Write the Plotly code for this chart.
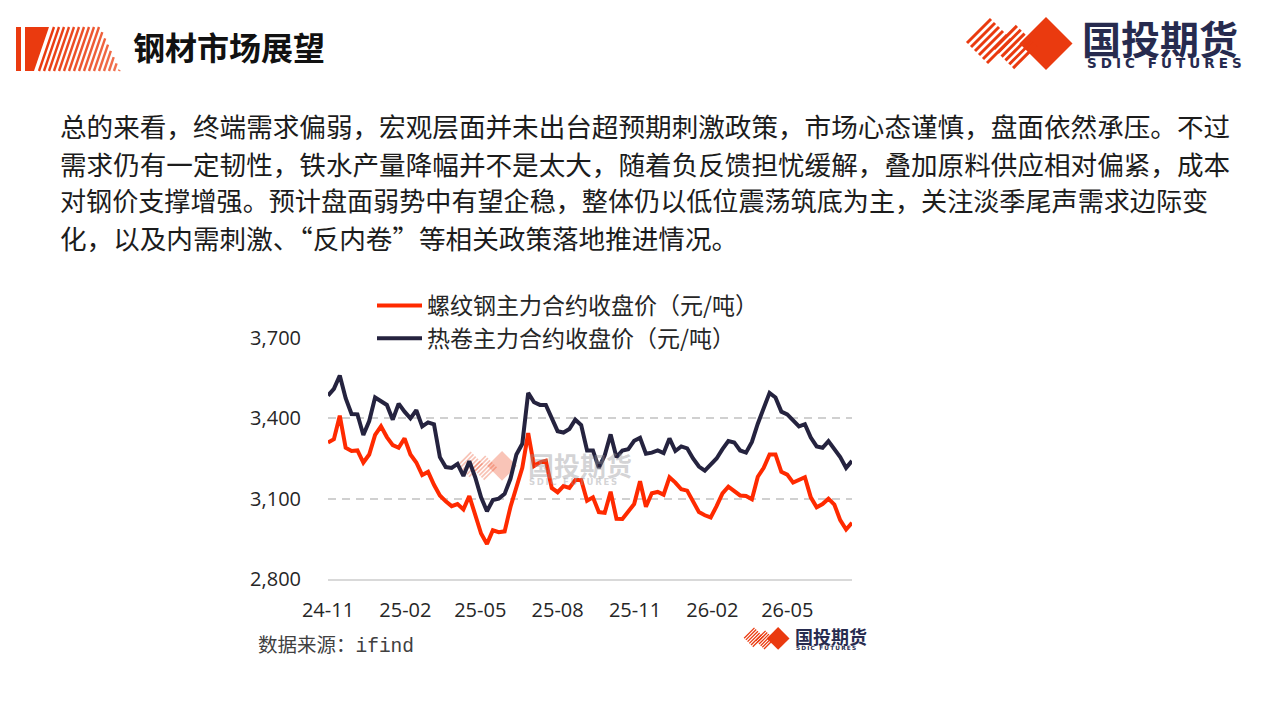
import pandas as pd
import plotly.graph_objects as go

W, H = 1280, 720
# the page body adds an 8px margin around the figure
OFF = 8

# weekly closes, first point 2024-11-01
dates = pd.date_range("2024-11-01", periods=90, freq="W-FRI")
rebar = [
    3310, 3322, 3410, 3290, 3278, 3280, 3235, 3265, 3338, 3370,
    3330, 3300, 3290, 3325, 3265, 3235, 3188, 3200, 3152, 3112,
    3090, 3072, 3080, 3060, 3110, 3035, 2970, 2931, 2982, 2975,
    2978, 3070, 3142, 3215, 3345, 3222, 3236, 3242, 3140, 3124,
    3147, 3140, 3170, 3170, 3092, 3105, 3050, 3047, 3126, 3025,
    3024, 3053, 3080, 3165, 3070, 3120, 3125, 3115, 3180, 3160,
    3135, 3130, 3090, 3050, 3038, 3030, 3072, 3120, 3145, 3130,
    3112, 3110, 3098, 3182, 3215, 3265, 3265, 3200, 3190, 3160,
    3170, 3180, 3105, 3068, 3080, 3100, 3078, 3020, 2985, 3010,
]
hrc = [
    3485, 3510, 3560, 3475, 3416, 3415, 3338, 3390, 3478, 3466,
    3450, 3395, 3455, 3425, 3400, 3430, 3370, 3385, 3378, 3255,
    3218, 3215, 3230, 3185, 3240, 3180, 3105, 3053, 3095, 3100,
    3118, 3175, 3265, 3305, 3495, 3460, 3450, 3450, 3405, 3352,
    3347, 3360, 3395, 3375, 3280, 3280, 3215, 3262, 3340, 3255,
    3280, 3285, 3316, 3327, 3268, 3272, 3280, 3270, 3325, 3278,
    3295, 3288, 3250, 3220, 3205, 3225, 3250, 3285, 3315, 3310,
    3280, 3272, 3312, 3380, 3440, 3495, 3478, 3425, 3415, 3391,
    3370, 3378, 3328, 3295, 3290, 3315, 3285, 3255, 3215, 3241,
]
series_names = ["螺纹钢主力合约收盘价（元/吨）", "热卷主力合约收盘价（元/吨）"]
y_ticks = [2800, 3100, 3400, 3700]

title_text = "钢材市场展望"
body_lines = [
    "总的来看，终端需求偏弱，宏观层面并未出台超预期刺激政策，市场心态谨慎，盘面依然承压。不过",
    "需求仍有一定韧性，铁水产量降幅并不是太大，随着负反馈担忧缓解，叠加原料供应相对偏紧，成本",
    "对钢价支撑增强。预计盘面弱势中有望企稳，整体仍以低位震荡筑底为主，关注淡季尾声需求边际变",
    "化，以及内需刺激、“反内卷”等相关政策落地推进情况。",
]
source_text = "数据来源：<span style='font-family:Liberation Mono'>ifind</span>"
brand_cn = "国投期货"
brand_en = "\u2009\u200a".join("SDIC FUTURES")
brand_en_small = "\u2009".join("SDIC FUTURES")

RED = "#ff2a00"
NAVY = "#25233f"
BRAND_RED = "#ea3a0f"
BRAND_NAVY = "#272b4f"
CJK = "Noto Sans CJK SC"


def px(x):
    return (x - OFF) / W


def py(y):
    return 1 - (y - OFF) / H


def poly(points):
    return "M" + "L".join(f"{px(a):.5f},{py(b):.5f}" for a, b in points) + "Z"


def add_mark(fig, ox, oy, s, opacity=1.0, layer="above"):
    """SDIC mark: two striped diamonds and a solid diamond, origin top-left."""
    def pt(x, y):
        return (ox + x * s, oy + y * s)

    h = 26.5
    cx, cy = 84, 26.5
    fig.add_shape(
        type="path",
        path=poly([pt(cx, cy - h), pt(cx + h, cy), pt(cx, cy + h), pt(cx - h, cy)]),
        fillcolor=BRAND_RED, line_width=0, opacity=opacity, layer=layer,
    )
    for dx, dy, hh in [(27, 24, 24), (53, 30, 23)]:
        top, right, left = (dx, dy - hh), (dx + hh, dy), (dx - hh, dy)
        n = 6
        for i in range(n):
            f = (i + 0.5) / n
            p = (top[0] + f * (right[0] - top[0]), top[1] + f * (right[1] - top[1]))
            q = (p[0] + left[0] - top[0], p[1] + left[1] - top[1])
            a, b = pt(*p), pt(*q)
            fig.add_shape(
                type="line", x0=px(a[0]), y0=py(a[1]), x1=px(b[0]), y1=py(b[1]),
                line=dict(color=BRAND_RED, width=3.0 * s), opacity=opacity, layer=layer,
            )


fig = go.Figure()
fig.add_trace(go.Scatter(x=dates, y=rebar, mode="lines", name=series_names[0],
                         line=dict(color=RED, width=4)))
fig.add_trace(go.Scatter(x=dates, y=hrc, mode="lines", name=series_names[1],
                         line=dict(color=NAVY, width=4)))

# header: striped icon on the left
fig.add_shape(type="rect", x0=px(16), x1=px(21), y0=py(27), y1=py(71),
              fillcolor=BRAND_RED, line_width=0)
fig.add_shape(type="path", path=poly([(25, 27), (49, 27), (34, 71), (25, 71)]),
              fillcolor=BRAND_RED, line_width=0)
for a in range(54, 136, 5):
    t0 = max(0.0, (a - 100) / 35)
    k = (a - 54) / 81
    col = f"rgb({int(234 + 8 * k)},{int(58 + 60 * k)},{int(15 + 70 * k)})"
    fig.add_shape(type="line", x0=px(a - 15 * t0), y0=py(27 + 44 * t0),
                  x1=px(a - 15), y1=py(71), line=dict(color=col, width=2.4))
fig.add_annotation(x=px(131), y=py(46), text=title_text,
                   font=dict(family=CJK, size=32, color="#111111", weight="bold"))

# header: logo on the right
add_mark(fig, 962, 17, 1.0)
fig.add_annotation(x=px(1080), y=py(37), text=brand_cn,
                   font=dict(family=CJK, size=39, color=BRAND_NAVY, weight="bold"))
fig.add_annotation(x=px(1085), y=py(63), text=brand_en,
                   font=dict(family="DejaVu Sans", size=13.5, color=BRAND_NAVY, weight="bold"))

# body paragraph
for i, line in enumerate(body_lines):
    fig.add_annotation(x=px(58), y=py(126 + 37 * i), text=line,
                       font=dict(family=CJK, size=26.1 if i == 2 else 26.6, color="#1c1c1c"))

# watermark inside the chart
add_mark(fig, 455, 451, 0.56, opacity=0.3, layer="below")
fig.add_annotation(x=px(526), y=py(464), text=brand_cn,
                   font=dict(family=CJK, size=26, color="rgba(150,150,155,0.42)", weight="bold"))
fig.add_annotation(x=px(527), y=py(482), text=brand_en_small,
                   font=dict(family="DejaVu Sans", size=8.5, color="rgba(150,150,155,0.42)", weight="bold"))

# source and small logo under the chart
fig.add_annotation(x=px(256), y=py(643), text=source_text,
                   font=dict(family=CJK, size=19.5, color="#404040"))
add_mark(fig, 742, 627, 0.43)
fig.add_annotation(x=px(793), y=py(636), text=brand_cn,
                   font=dict(family=CJK, size=18, color=BRAND_NAVY, weight="bold"))
fig.add_annotation(x=px(794), y=py(648), text=brand_en_small,
                   font=dict(family="DejaVu Sans", size=5.8, color=BRAND_NAVY, weight="bold"))

fig.update_annotations(xref="paper", yref="paper", showarrow=False,
                       xanchor="left", yanchor="middle")
fig.update_shapes(xref="paper", yref="paper")

fig.update_xaxes(
    domain=[px(328), px(852)],
    automargin=False,
    type="date",
    range=[dates[0], dates[-1]],
    tick0="2024-11-01",
    dtick="M3",
    tickformat="%y-%m",
    showgrid=False,
    showline=True,
    linecolor="#d9d9d9",
    linewidth=1.5,
    ticks="",
    ticklabelstandoff=12,
    tickfont=dict(family="Open Sans", size=20, color="#262626"),
)
fig.update_yaxes(
    domain=[py(579), py(338)],
    automargin=False,
    range=[2800, 3700],
    tickvals=y_ticks,
    tickformat=",d",
    showgrid=True,
    gridcolor="#d0d0d0",
    gridwidth=1.5,
    griddash="8px,6px",
    zeroline=False,
    ticks="",
    ticklabelstandoff=26,
    tickfont=dict(family="Open Sans", size=20, color="#262626"),
)
fig.update_layout(
    width=W,
    height=H,
    margin=dict(l=0, r=0, t=0, b=0),
    paper_bgcolor="white",
    plot_bgcolor="white",
    showlegend=True,
    legend=dict(
        x=px(372),
        y=py(284),
        xanchor="left",
        yanchor="top",
        bgcolor="rgba(0,0,0,0)",
        font=dict(family=CJK, size=23, color="#262626"),
        itemwidth=45,
        tracegroupgap=0,
    ),
)
fig.write_html("out.html")
